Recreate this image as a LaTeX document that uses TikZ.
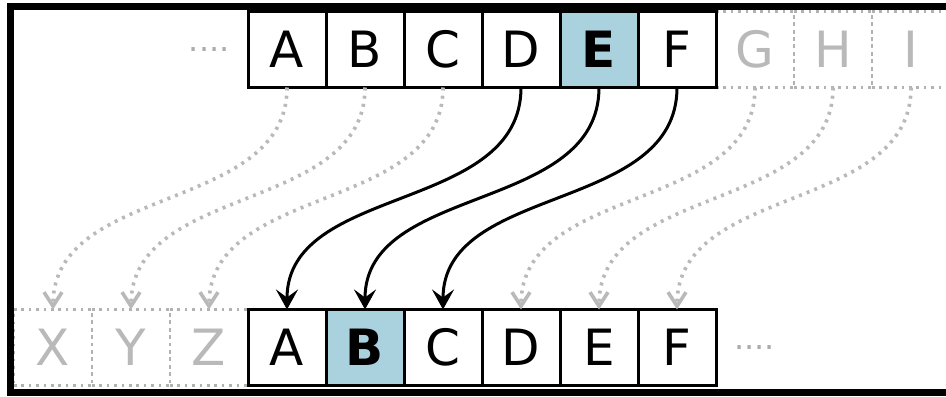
\documentclass[tikz,border=0pt]{standalone}
\usepackage{fontspec}
\setmainfont{DejaVu Sans}
\usepackage{xcolor}
\usetikzlibrary{arrows.meta, positioning}
\pgfdeclarelayer{background}
\pgfsetlayers{background,main}
\definecolor{hotblue}{RGB}{170,210,222}

\begin{document}
\begin{tikzpicture}[
  x=0.5pt, y=0.5pt,
  node distance=0pt,
  cell/.style={draw, line width=1.5pt, outer sep=0pt, minimum width=39pt,
              minimum height=38pt, inner sep=0pt, fill=white,
              font=\fontsize{25}{30}\selectfont},
  hot/.style={cell, fill=hotblue, font=\fontsize{25}{30}\selectfont\bfseries},
  ghost/.style={cell, draw=gray!60, fill=none, text=gray!55, line width=1.3pt,
              dash pattern=on 1.3pt off 2.4pt},
  more/.style={inner sep=0pt, text=gray!65, font=\fontsize{16}{16}\selectfont},
  arr/.style={-{Stealth[length=10pt,width=11pt,inset=4pt]}, line width=1.5pt},
  garr/.style={-{Straight Barb[length=7pt,width=9pt]}, draw=gray!55,
              line width=1.8pt, dash pattern=on 1.5pt off 2.6pt}]
\useasboundingbox (0,0) rectangle (946,396);
% plain alphabet
\node[cell] (tA) at (287,346.5) {A};
\node[cell, right=of tA] (tB) {B};
\node[cell, right=of tB] (tC) {C};
\node[cell, right=of tC] (tD) {D};
\node[hot, right=of tD] (tE) {E};
\node[cell, right=of tE] (tF) {F};
\begin{pgfonlayer}{background}
\node[ghost, right=of tF] (tG) {G};
\node[ghost, right=of tG] (tH) {H};
\node[ghost, right=of tH] (tI) {I};
\end{pgfonlayer}
\node[more, left=9pt of tA] (tMore) {....};
% shifted alphabet
\node[ghost] (bX) at (53,48.5) {X};
\node[ghost, right=of bX] (bY) {Y};
\node[ghost, right=of bY] (bZ) {Z};
\node[cell, right=of bZ] (bA) {A};
\node[hot, right=of bA] (bB) {B};
\node[cell, right=of bB] (bC) {C};
\node[cell, right=of bC] (bD) {D};
\node[cell, right=of bD] (bE) {E};
\node[cell, right=of bE] (bF) {F};
\node[more, right=9pt of bF] (bMore) {....};
% shift by three
\draw[garr] (tA.south) to[out=-90, in=90] (bX.north);
\draw[garr] (tB.south) to[out=-90, in=90] (bY.north);
\draw[garr] (tC.south) to[out=-90, in=90] (bZ.north);
\draw[garr] (tG.south) to[out=-90, in=90] (bD.north);
\draw[garr] (tH.south) to[out=-90, in=90] (bE.north);
\draw[garr] (tI.south) to[out=-90, in=90] (bF.north);
\draw[arr] (tD.south) to[out=-90, in=90] (bA.north);
\draw[arr] (tE.south) to[out=-90, in=90] (bB.north);
\draw[arr] (tF.south) to[out=-90, in=90] (bC.north);
% frame
\draw[line width=3.5pt] (946,389.5) -- (10.5,389.5) -- (10.5,4) -- (946,4);
\end{tikzpicture}
\end{document}
